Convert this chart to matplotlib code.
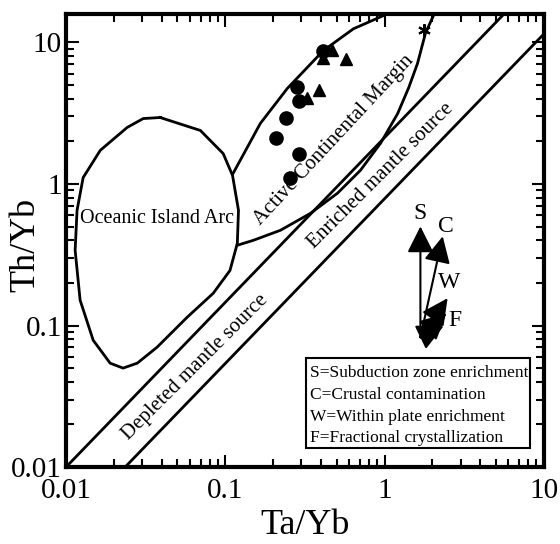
import matplotlib
matplotlib.use('Agg')
import matplotlib.pyplot as plt
from matplotlib.ticker import LogLocator, FixedLocator, FixedFormatter, NullFormatter
from matplotlib.patches import Rectangle

plt.rcParams['font.family'] = ['Liberation Serif', 'DejaVu Serif']

# samples
circ_x = [0.413, 0.284, 0.292, 0.242, 0.209, 0.292, 0.256]
circ_y = [8.77, 4.88, 3.83, 2.95, 2.13, 1.62, 1.11]
tri_x = [0.471, 0.413, 0.569, 0.328, 0.385]
tri_y = [8.91, 7.82, 7.70, 4.08, 4.58]
star_x = [1.76]
star_y = [12.3]

# mantle array boundaries
upper_x = [0.01, 7.0]
upper_y = [0.01, 20.5]
lower_x = [0.0235, 10.1]
lower_y = [0.01, 11.6]

# Oceanic Island Arc field
oia_x = [0.039, 0.0697, 0.097, 0.111, 0.121, 0.119, 0.107, 0.084, 0.0577, 0.0373,
         0.028, 0.0228, 0.0189, 0.0148, 0.01225, 0.0114, 0.01172, 0.0128, 0.0164,
         0.0242, 0.0305, 0.039]
oia_y = [2.95, 2.39, 1.64, 1.15, 0.652, 0.381, 0.245, 0.169, 0.1146, 0.0703,
         0.0542, 0.050, 0.0542, 0.0787, 0.151, 0.340, 0.652, 1.11, 1.73,
         2.51, 2.90, 2.95]

# Active Continental Margin field (open at top, ends on OIA field)
acm_x = [0.112, 0.166, 0.245, 0.413, 0.638, 0.986, 1.5, 2.03, 1.81, 1.61, 1.42,
         1.21, 0.944, 0.706, 0.506, 0.343, 0.222, 0.150, 0.119]
acm_y = [1.19, 2.68, 4.73, 8.77, 12.5, 15.5, 22.0, 15.5, 11.7, 7.1, 4.81,
         3.15, 1.94, 1.25, 0.86, 0.621, 0.471, 0.400, 0.369]

# vectors
vec_origin = (1.68, 0.0826)
vec_tips = {'S': (1.68, 0.502), 'C': (2.32, 0.427), 'W': (2.49, 0.156),
            'F1': (2.45, 0.122), 'F2': (2.35, 0.099)}
vec_labels = {'S': (1.68, 0.62), 'C': (2.42, 0.50), 'W': (2.55, 0.20), 'F': (2.75, 0.108)}

legend_lines = ['S=Subduction zone enrichment', 'C=Crustal contamination',
                'W=Within plate enrichment', 'F=Fractional crystallization']

fig = plt.figure(figsize=(5.6, 5.44), dpi=100)
ax = fig.add_subplot(111)
fig.subplots_adjust(left=0.118, right=0.971, bottom=0.1415, top=0.975)

ax.set_xscale('log')
ax.set_yscale('log')
ax.set_xlim(0.01, 10)
ax.set_ylim(0.01, 16)

lw = 2.0
ax.plot(upper_x, upper_y, color='black', lw=lw)
ax.plot(lower_x, lower_y, color='black', lw=lw)
ax.plot(oia_x, oia_y, color='black', lw=lw)
ax.plot(acm_x, acm_y, color='black', lw=lw)

ax.plot(circ_x, circ_y, 'o', color='black', ms=9.5, zorder=5)
ax.plot(tri_x, tri_y, '^', color='black', ms=9, zorder=5)
ax.plot(star_x, star_y, marker=(6, 2, 0), color='black', ms=9, mew=1.5, ls='none', zorder=5)

for k, tip in vec_tips.items():
    ax.annotate('', xy=tip, xytext=vec_origin,
                arrowprops=dict(arrowstyle='-|>,head_length=0.9,head_width=0.45',
                                color='black', lw=1.5, shrinkA=0, shrinkB=0,
                                mutation_scale=18))
for k, (lx, ly) in vec_labels.items():
    ax.text(lx, ly, k, fontsize=17, ha='center', va='center')

ax.text(0.01225, 0.571, 'Oceanic Island Arc', fontsize=14.5, ha='left', va='center')
ax.text(0.478, 2.03, 'Active Continental Margin', fontsize=15, ha='center', va='center',
        rotation=47, rotation_mode='anchor')
ax.text(0.944, 1.15, 'Enriched mantle source', fontsize=15, ha='center', va='center',
        rotation=45, rotation_mode='anchor')
ax.text(0.0647, 0.0508, 'Depleted mantle source', fontsize=15, ha='center', va='center',
        rotation=45, rotation_mode='anchor')

ax.add_patch(Rectangle((0.502, 0.042), 0.469, 0.198, transform=ax.transAxes,
                       fill=False, edgecolor='black', lw=1.5, zorder=6))
for i, s in enumerate(legend_lines):
    ax.text(0.51, 0.207 - i * 0.048, s, transform=ax.transAxes, fontsize=12.5,
            ha='left', va='center')

# ticks
ax.xaxis.set_major_locator(FixedLocator([0.01, 0.1, 1, 10]))
ax.xaxis.set_major_formatter(FixedFormatter(['0.01', '0.1', '1', '10']))
ax.yaxis.set_major_locator(FixedLocator([0.01, 0.1, 1, 10]))
ax.yaxis.set_major_formatter(FixedFormatter(['0.01', '0.1', '1', '10']))
ax.xaxis.set_minor_locator(LogLocator(base=10, subs=range(2, 10), numticks=20))
ax.yaxis.set_minor_locator(LogLocator(base=10, subs=range(2, 10), numticks=20))
ax.xaxis.set_minor_formatter(NullFormatter())
ax.yaxis.set_minor_formatter(NullFormatter())
ax.tick_params(which='both', direction='in', top=True, right=True, width=1.5, labelsize=21)
ax.tick_params(which='major', length=9)
ax.tick_params(which='minor', length=6)
ax.tick_params(axis='x', pad=8)
ax.tick_params(axis='y', pad=3)
for sp in ax.spines.values():
    sp.set_linewidth(3)

ax.set_xlabel('Ta/Yb', fontsize=26)
ax.set_ylabel('Th/Yb', fontsize=26)
ax.xaxis.set_label_coords(0.5, -0.092)
ax.yaxis.set_label_coords(-0.05, 0.49)

fig.savefig('out.png', dpi=100)
